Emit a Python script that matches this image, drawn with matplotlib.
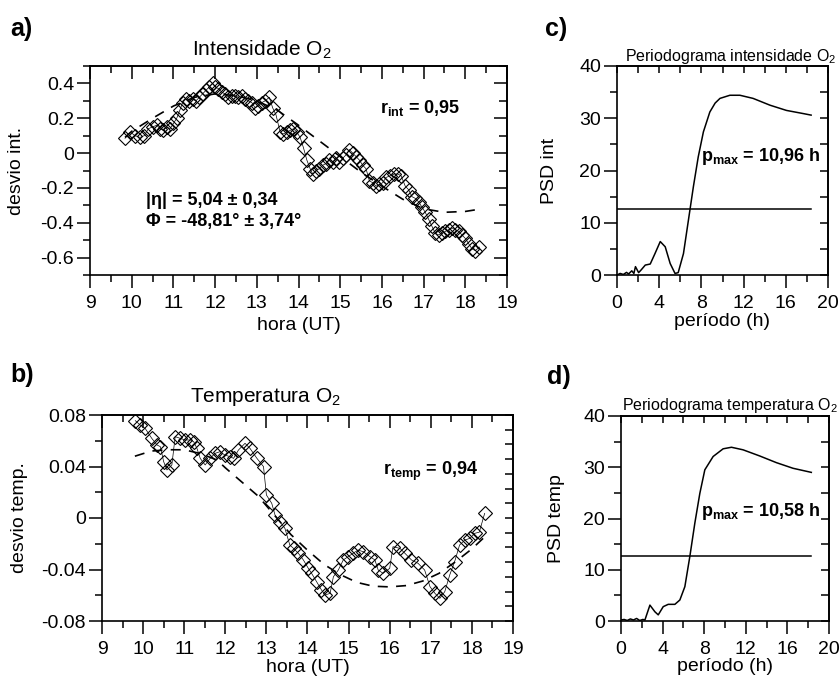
import numpy as np
import matplotlib
matplotlib.use("Agg")
import matplotlib.pyplot as plt

plt.rcParams["font.family"] = ["Liberation Sans", "DejaVu Sans"]
plt.rcParams["mathtext.fontset"] = "custom"
plt.rcParams["mathtext.rm"] = "Liberation Sans"
plt.rcParams["mathtext.it"] = "Liberation Sans:italic"
plt.rcParams["mathtext.bf"] = "Liberation Sans:bold"
plt.rcParams["mathtext.default"] = "regular"

# -------------------------
# data
# -------------------------
hora_int = [9.84, 9.97, 10.08, 10.2, 10.3, 10.4, 10.5, 10.6, 10.68, 10.76, 10.84, 10.92,
            11.0, 11.08, 11.16, 11.22, 11.3, 11.38, 11.46, 11.54, 11.62, 11.7, 11.78, 11.86,
            11.94, 12.0, 12.08, 12.16, 12.24, 12.32, 12.4, 12.48, 12.56, 12.64, 12.72, 12.8,
            12.88, 12.96, 13.04, 13.12, 13.2, 13.3, 13.38, 13.46, 13.56, 13.64, 13.72, 13.8,
            13.88, 13.96, 14.04, 14.12, 14.2, 14.28, 14.34, 14.42, 14.5, 14.58, 14.66, 14.74,
            14.82, 14.9, 14.98, 15.06, 15.14, 15.22, 15.3, 15.38, 15.46, 15.54, 15.62, 15.7,
            15.78, 15.86, 15.94, 16.02, 16.1, 16.2, 16.3, 16.38, 16.46, 16.56, 16.64, 16.72,
            16.8, 16.88, 16.96, 17.04, 17.12, 17.2, 17.28, 17.36, 17.44, 17.52, 17.6, 17.68,
            17.76, 17.84, 17.92, 18.0, 18.08, 18.16, 18.24, 18.34]
desvio_int = [0.085, 0.12, 0.10, 0.09, 0.10, 0.14, 0.15, 0.16, 0.14, 0.13, 0.15, 0.14,
              0.17, 0.20, 0.25, 0.29, 0.31, 0.30, 0.31, 0.30, 0.32, 0.34, 0.36, 0.38,
              0.40, 0.38, 0.37, 0.35, 0.34, 0.32, 0.33, 0.33, 0.32, 0.33, 0.31, 0.30,
              0.29, 0.26, 0.27, 0.29, 0.30, 0.32, 0.26, 0.22, 0.12, 0.11, 0.12, 0.13,
              0.14, 0.12, 0.09, 0.03, -0.04, -0.09, -0.12, -0.10, -0.09, -0.07, -0.06, -0.04,
              -0.05, -0.03, -0.05, -0.03, -0.01, 0.02, 0.00, -0.02, -0.04, -0.07, -0.09, -0.16,
              -0.17, -0.19, -0.18, -0.17, -0.14, -0.13, -0.12, -0.12, -0.13, -0.19, -0.21, -0.25,
              -0.26, -0.28, -0.31, -0.34, -0.38, -0.42, -0.46, -0.47, -0.46, -0.45, -0.44, -0.43,
              -0.44, -0.45, -0.47, -0.49, -0.52, -0.55, -0.56, -0.54]
hora_fit_int = [9.84, 10.0, 10.5, 11.0, 11.5, 12.0, 12.5, 13.0, 13.5, 14.0, 14.5, 15.0,
                15.5, 16.0, 16.5, 17.0, 17.5, 18.0, 18.4]
fit_int = [0.09, 0.125, 0.20, 0.27, 0.32, 0.34, 0.33, 0.30, 0.245, 0.16, 0.07, -0.02,
           -0.11, -0.19, -0.265, -0.32, -0.34, -0.335, -0.32]

hora_temp = [9.81, 9.93, 10.05, 10.21, 10.34, 10.42, 10.5, 10.58, 10.7, 10.78, 10.9, 11.02,
             11.15, 11.23, 11.31, 11.39, 11.51, 11.63, 11.75, 11.87, 11.99, 12.12, 12.2, 12.32,
             12.48, 12.6, 12.77, 12.93, 13.0, 13.13, 13.21, 13.33, 13.45, 13.57, 13.66, 13.78,
             13.9, 14.02, 14.1, 14.22, 14.34, 14.43, 14.55, 14.63, 14.75, 14.87, 14.99, 15.11,
             15.23, 15.36, 15.52, 15.64, 15.72, 15.84, 16.0, 16.08, 16.25, 16.37, 16.53, 16.69,
             16.85, 16.98, 17.1, 17.22, 17.34, 17.46, 17.58, 17.7, 17.83, 17.95, 18.07, 18.18,
             18.31]
desvio_temp = [0.0756, 0.0722, 0.0696, 0.0619, 0.0567, 0.0554, 0.0438, 0.0373, 0.0412, 0.0632,
               0.0619, 0.0606, 0.0606, 0.0593, 0.0541, 0.0463, 0.0412, 0.0463, 0.0502, 0.0515,
               0.0489, 0.0476, 0.0463, 0.0528, 0.058, 0.0541, 0.0463, 0.0399, 0.0179, 0.0114,
               0.0023, -0.0029, -0.008, -0.021, -0.0236, -0.0275, -0.0326, -0.0391, -0.043,
               -0.0494, -0.0559, -0.0598, -0.0585, -0.0456, -0.0404, -0.0326, -0.030, -0.0274,
               -0.0249, -0.0262, -0.030, -0.0326, -0.0404, -0.043, -0.0391, -0.0223, -0.0236,
               -0.0274, -0.0326, -0.0352, -0.0404, -0.0533, -0.0585, -0.0624, -0.0572, -0.0443,
               -0.0339, -0.021, -0.0171, -0.0158, -0.0119, -0.011, 0.0036]
hora_fit_temp = [9.8, 10.2, 10.6, 11.0, 11.4, 11.8, 12.0, 12.4, 12.8, 13.2, 13.6, 14.0,
                 14.4, 14.8, 15.2, 15.6, 16.0, 16.4, 16.8, 17.2, 17.6, 18.0, 18.3]
fit_temp = [0.048, 0.052, 0.053, 0.053, 0.050, 0.045, 0.039, 0.028, 0.017, 0.002, -0.013,
            -0.025, -0.036, -0.044, -0.050, -0.053, -0.0535, -0.0525, -0.049, -0.043, -0.034,
            -0.024, -0.015]

periodo_c = [0.0, 0.3, 0.6, 0.9, 1.1, 1.4, 1.6, 1.75, 2.05, 2.3, 2.68, 3.15, 3.6, 4.1,
             4.57, 5.04, 5.5, 5.8, 6.3, 6.77, 7.24, 7.7, 8.19, 8.8, 9.3, 9.76, 10.7, 11.65,
             12.9, 14.5, 16.06, 17.64, 18.4]
psd_int = [0.0, 0.3, 0.1, 0.5, 0.2, 0.8, 0.3, 1.6, 0.45, 1.0, 1.9, 2.1, 4.1, 6.4,
           5.4, 2.2, 0.3, 0.45, 4.1, 10.5, 16.9, 22.6, 27.4, 31.2, 32.9, 33.8, 34.4, 34.4,
           33.8, 32.5, 31.5, 30.9, 30.6]
limiar_c = 12.6

periodo_d = [0.0, 0.3, 0.6, 0.9, 1.2, 1.5, 1.8, 2.1, 2.3, 2.78, 3.26, 3.58, 4.06, 4.54,
             5.18, 5.66, 6.14, 6.62, 7.1, 7.58, 8.06, 8.86, 9.82, 10.62, 11.74, 13.34, 14.94,
             16.54, 18.3]
psd_temp = [0.2, 0.3, 0.1, 0.4, 0.2, 0.5, 0.1, 0.3, 0.2, 3.1, 1.8, 1.2, 2.8, 3.25,
            3.25, 4.1, 6.7, 12.6, 19.1, 24.9, 29.5, 32.1, 33.6, 33.9, 33.4, 32.2, 30.9,
            29.8, 29.0]
limiar_d = 12.7

# -------------------------
# helpers
# -------------------------
W, H = 840, 685


def box(l, t, r, b):
    return [l / W, 1 - b / H, (r - l) / W, (b - t) / H]


def frame(ax, xmaj, xmin, ymaj, ymin, tmaj, tmin, rmaj, rmin):
    for s in ax.spines.values():
        s.set_linewidth(1.2)
    ax.set_xticks(xmaj)
    ax.set_xticks(xmin, minor=True)
    ax.set_yticks(ymaj)
    ax.set_yticks(ymin, minor=True)
    ax.tick_params(which="major", direction="out", length=9.5, width=1.1,
                   labelsize=14, pad=5)
    ax.tick_params(which="minor", direction="out", length=5, width=1.1)
    ax.tick_params(axis="y", which="major", pad=2)

    top = ax.secondary_xaxis("top")
    top.set_xticks(tmaj)
    top.set_xticks(tmin, minor=True)
    top.tick_params(which="major", direction="in", length=9.5, width=1.1, labeltop=False)
    top.tick_params(which="minor", direction="in", length=5, width=1.1)
    top.spines["top"].set_linewidth(1.2)

    right = ax.secondary_yaxis("right")
    right.set_yticks(rmaj)
    right.set_yticks(rmin, minor=True)
    right.tick_params(which="major", direction="in", length=9.5, width=1.1,
                      labelright=False)
    right.tick_params(which="minor", direction="in", length=6, width=1.1)
    right.spines["right"].set_linewidth(1.2)


def labels(ax, xl, yl, xpos, ypos):
    ax.set_xlabel(xl, fontsize=14)
    ax.set_ylabel(yl, fontsize=14)
    ax.xaxis.set_label_coords(0.5, xpos)
    ax.yaxis.set_label_coords(ypos, 0.5)


def series(ax, x, y, xf, yf):
    ax.plot(x, y, color="black", linewidth=0.5, zorder=2)
    ax.plot(x, y, linestyle="None", marker="D", markersize=6.8,
            markerfacecolor="none", markeredgecolor="black",
            markeredgewidth=0.8, zorder=3)
    ax.plot(xf, yf, color="black", linewidth=1.2, dashes=(6, 5), zorder=4)


fig = plt.figure(figsize=(8.4, 6.85), dpi=100)

tag_font = dict(fontsize=18, fontweight="bold",
                family=["Liberation Sans Narrow", "Liberation Sans"])
note = dict(fontsize=13, fontweight="bold", va="center")

# -------------------------
# a) intensidade
# -------------------------
ax = fig.add_axes(box(90, 66, 507, 275))
series(ax, hora_int, desvio_int, hora_fit_int, fit_int)
ax.set_xlim(9, 19)
ax.set_ylim(-0.7, 0.5)
frame(ax, np.arange(9, 20, 1), np.arange(9, 19.01, 0.5),
      [-0.6, -0.4, -0.2, 0, 0.2, 0.4], np.arange(-0.7, 0.51, 0.1),
      np.arange(9, 20, 1), np.arange(9, 19.01, 0.5),
      np.arange(-0.6, 0.41, 0.2), np.arange(-0.7, 0.51, 0.1))
ax.set_yticklabels(["-0.6", "-0.4", "-0.2", "0", "0.2", "0.4"])
labels(ax, "hora (UT)", "desvio int.", -0.2, -0.155)
ax.text(15.95, 0.26, r"r$_\mathbf{int}$ = 0,95", **note)
ax.text(10.35, -0.27, "|η| = 5,04 ± 0,34", **note)
ax.text(10.35, -0.39, "Φ = -48,81° ± 3,74°", **note)
fig.text(262 / W, 1 - 50 / H, "Intensidade O$_2$", fontsize=15, ha="center",
         va="center")
fig.text(10 / W, 1 - 36 / H, "a)", **tag_font)

# -------------------------
# b) temperatura
# -------------------------
ax = fig.add_axes(box(102, 415, 513, 621))
series(ax, hora_temp, desvio_temp, hora_fit_temp, fit_temp)
ax.set_xlim(9, 19)
ax.set_ylim(-0.08, 0.08)
frame(ax, np.arange(9, 20, 1), np.arange(9, 19.01, 0.5),
      [-0.08, -0.04, 0, 0.04, 0.08], np.arange(-0.08, 0.081, 0.02),
      np.arange(9, 20, 1), np.arange(9, 19.01, 0.5),
      [], np.linspace(-0.08, 0.08, 15))
ax.set_yticklabels(["-0.08", "-0.04", "0", "0.04", "0.08"])
labels(ax, "hora (UT)", "desvio temp.", -0.185, -0.18)
ax.text(15.84, 0.036, r"r$_\mathbf{temp}$ = 0,94", **note)
fig.text(266 / W, 1 - 397 / H, "Temperatura O$_2$", fontsize=15, ha="center",
         va="center")
fig.text(10 / W, 1 - 382 / H, "b)", **tag_font)

# -------------------------
# c) periodograma intensidade
# -------------------------
ax = fig.add_axes(box(617, 66, 828, 275))
ax.plot(periodo_c, psd_int, color="black", linewidth=1.1)
ax.plot([0, 18.4], [limiar_c, limiar_c], color="black", linewidth=1.1)
ax.set_xlim(0, 20)
ax.set_ylim(0, 40)
frame(ax, np.arange(0, 21, 4), np.arange(0, 21, 2),
      np.arange(0, 41, 10), np.arange(0, 41, 5),
      [], np.arange(0, 21, 2), [], np.arange(0, 41, 5))
labels(ax, "período (h)", "PSD int", -0.18, -0.28)
ax.text(8.0, 22.6, r"p$_\mathbf{max}$ = 10,96 h", **note)
fig.text(836 / W, 1 - 57 / H, "Periodograma intensidade O$_2$", fontsize=11.5,
         ha="right", va="center")
fig.text(545 / W, 1 - 36 / H, "c)", **tag_font)

# -------------------------
# d) periodograma temperatura
# -------------------------
ax = fig.add_axes(box(621, 416, 829, 621))
ax.plot(periodo_d, psd_temp, color="black", linewidth=1.1)
ax.plot([0, 18.3], [limiar_d, limiar_d], color="black", linewidth=1.1)
ax.set_xlim(0, 20)
ax.set_ylim(0, 40)
frame(ax, np.arange(0, 21, 4), np.arange(0, 21, 2),
      np.arange(0, 41, 10), np.arange(0, 41, 5),
      [], np.arange(0, 21, 2), [], np.arange(0, 41, 5))
labels(ax, "período (h)", "PSD temp", -0.18, -0.27)
ax.text(7.7, 21.3, r"p$_\mathbf{max}$ = 10,58 h", **note)
fig.text(838 / W, 1 - 405 / H, "Periodograma temperatura O$_2$", fontsize=11.5,
         ha="right", va="center")
fig.text(547 / W, 1 - 384 / H, "d)", **tag_font)

fig.savefig("out.png", dpi=100)
